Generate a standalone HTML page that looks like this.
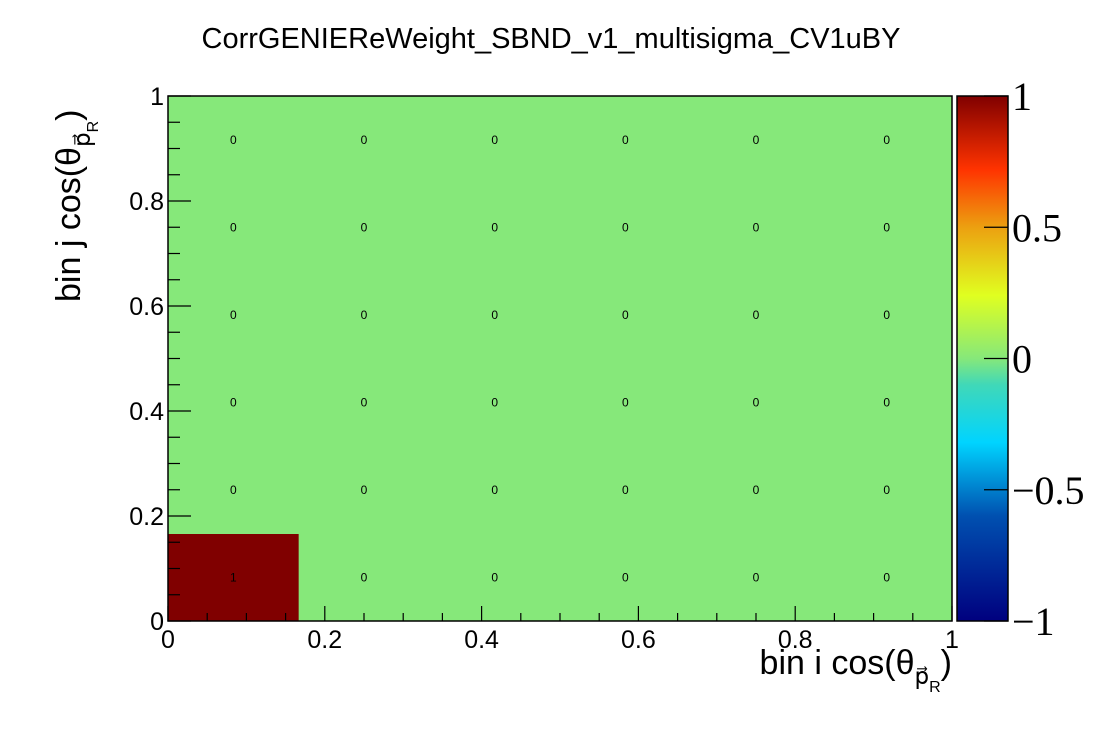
<!DOCTYPE html>
<html><head><meta charset="utf-8"><style>
body{margin:0;background:#fff;}
svg text{font-family:"Liberation Sans",sans-serif;}
</style></head><body>
<svg id="chart" width="1120" height="740" xmlns="http://www.w3.org/2000/svg">
<defs>
<linearGradient id="cg" x1="0" y1="1" x2="0" y2="0">
<stop offset="0" stop-color="#00007f"/>
<stop offset="0.2" stop-color="#0050b0"/>
<stop offset="0.34" stop-color="#00d4ff"/>
<stop offset="0.45" stop-color="#40d8b8"/>
<stop offset="0.5" stop-color="#86e87a"/>
<stop offset="0.62" stop-color="#e0ff20"/>
<stop offset="0.75" stop-color="#eca010"/>
<stop offset="0.86" stop-color="#ff3300"/>
<stop offset="1" stop-color="#800000"/>
</linearGradient>
</defs>
<text x="551" y="48" font-size="29" text-anchor="middle">CorrGENIEReWeight_SBND_v1_multisigma_CV1uBY</text>
<g id="cells"></g>
<g id="axes"></g>
<g>
<rect x="957" y="96" width="51" height="525" fill="url(#cg)" stroke="#000" stroke-width="1.5"/>
</g>
<g id="cbticks"></g>
<text x="952" y="674" font-size="34" text-anchor="end">bin i cos(θ<tspan font-size="23" dy="10">p⃗</tspan><tspan font-size="16" dy="8">R</tspan><tspan font-size="34" dy="-18">)</tspan></text>
<text transform="translate(80,302) rotate(-90)" font-size="34">bin j cos(θ<tspan font-size="23" dy="10">p⃗</tspan><tspan font-size="16" dy="8">R</tspan><tspan font-size="34" dy="-18">)</tspan></text>
</svg>
<script>
const xBins = [0, 1, 2, 3, 4, 5];
const yBins = [0, 1, 2, 3, 4, 5];
const values = [
 [1,0,0,0,0,0],
 [0,0,0,0,0,0],
 [0,0,0,0,0,0],
 [0,0,0,0,0,0],
 [0,0,0,0,0,0],
 [0,0,0,0,0,0]
];
const axisTicks = [0, 0.2, 0.4, 0.6, 0.8, 1];
const axisTickLabels = ["0", "0.2", "0.4", "0.6", "0.8", "1"];
const cbTicks = [-1, -0.5, 0, 0.5, 1];
const cbTickLabels = ["\u22121", "\u22120.5", "0", "0.5", "1"];

const NS = "http://www.w3.org/2000/svg";
const X0 = 168, X1 = 952, Y0 = 621, Y1 = 96;
const sx = v => X0 + v * (X1 - X0);
const sy = v => Y0 - v * (Y0 - Y1);
const cy = v => Y0 - (v + 1) / 2 * (Y0 - Y1);
function mk(tag, attrs, parent) { const e = document.createElementNS(NS, tag); for (const k in attrs) e.setAttribute(k, attrs[k]); parent.appendChild(e); return e; }
function color(v) {
  const stops = [[-1,[0,0,127]],[-0.6,[0,80,176]],[-0.32,[0,212,255]],[-0.1,[64,216,184]],[0,[134,232,122]],[0.24,[224,255,32]],[0.5,[236,160,16]],[0.72,[255,51,0]],[1,[128,0,0]]];
  for (let i = 1; i < stops.length; i++) { if (v <= stops[i][0]) { const a = stops[i-1], b = stops[i]; const t = (v - a[0]) / (b[0] - a[0]); return "rgb(" + a[1].map((c, j) => Math.round(c + t * (b[1][j] - c))).join(",") + ")"; } }
  return "rgb(128,0,0)";
}
const cells = document.getElementById("cells");
const nx = xBins.length, ny = yBins.length;
for (let j = 0; j < ny; j++) for (let i = 0; i < nx; i++) {
  const v = values[j][i];
  const r = mk("rect", {x: sx(xBins[i]/nx), y: sy((yBins[j]+1)/ny), width: sx(1/nx)-X0+0.5, height: Y0-sy(1/ny)+0.5, fill: color(v)}, cells);
  
  
  const t = mk("text", {x: sx((xBins[i]+0.5)/nx), y: sy((yBins[j]+0.5)/ny)+4, "font-size": 12, "text-anchor": "middle"}, cells);
  t.textContent = String(v);
  
  
}
const ax = document.getElementById("axes");
const frame = mk("rect", {x: X0, y: Y1, width: X1-X0, height: Y0-Y1, fill: "none", stroke: "#000", "stroke-width": 1.5}, ax);


for (let k = 0; k <= 20; k++) {
  const v = k / 20, major = k % 4 === 0;
  mk("line", {x1: sx(v), x2: sx(v), y1: Y0, y2: Y0 - (major ? 15 : 8), stroke: "#000", "stroke-width": 1.2}, ax);
  mk("line", {x1: X0, x2: X0 + (major ? 23 : 12), y1: sy(v), y2: sy(v), stroke: "#000", "stroke-width": 1.2}, ax);
}
axisTicks.forEach((v, i) => {
  const tx = mk("text", {x: sx(v), y: 648, "font-size": 25, "text-anchor": "middle"}, ax);
  tx.textContent = axisTickLabels[i];
  
  
  const ty = mk("text", {x: 164, y: sy(v) + 9, "font-size": 25, "text-anchor": "end"}, ax);
  ty.textContent = axisTickLabels[i];
  
  
});
const cb = document.getElementById("cbticks");
cbTicks.forEach((v, i) => {
  mk("line", {x1: 984, x2: 1008, y1: cy(v), y2: cy(v), stroke: "#000", "stroke-width": 1.2}, cb);
  const t = mk("text", {x: 1012, y: cy(v) + 14, "font-size": 40}, cb);
  t.setAttribute("style", "font-family:'Liberation Serif',serif");
  t.textContent = cbTickLabels[i];
  
  
});
</script>
</body></html>
